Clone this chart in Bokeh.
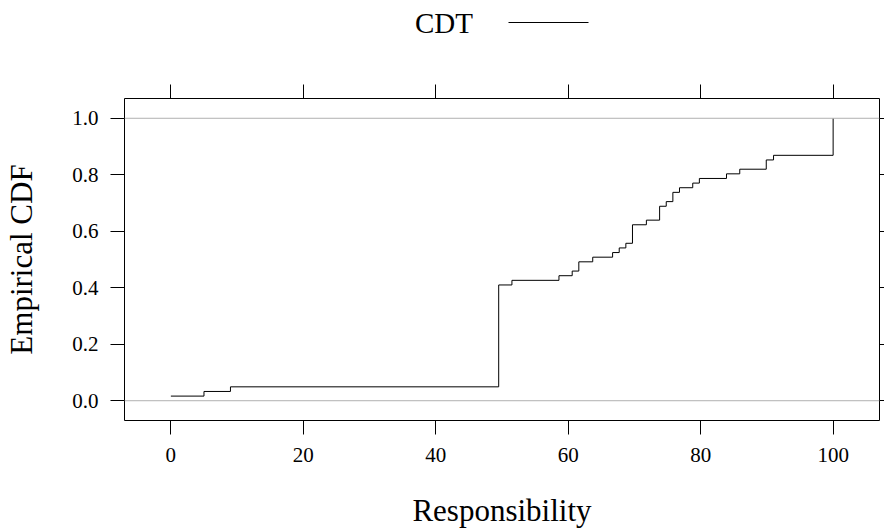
import numpy as np
from bokeh.plotting import figure
from bokeh.layouts import column
from bokeh.models import (FixedTicker, PrintfTickFormatter, LinearAxis, Span,
                          Range1d, CustomJSTickFormatter)
from bokeh.core.properties import value
from bokeh.embed import file_html
from bokeh.resources import INLINE

series_name = "CDT"
resp_values = [0, 5, 9, 49.5, 51.5, 58.6, 60.6, 61.6, 63.7, 66.7, 67.7, 68.7,
               69.7, 71.8, 73.8, 74.8, 75.8, 76.8, 78.8, 79.8, 83.9, 85.9,
               89.9, 91.0, 100]
resp_counts = [1, 1, 1, 22, 1, 1, 1, 2, 1, 1, 1, 1,
               4, 1, 3, 1, 2, 1, 1, 1, 1, 1,
               2, 1, 8]
x_ticks = [0, 20, 40, 60, 80, 100]
y_ticks = [0.0, 0.2, 0.4, 0.6, 0.8, 1.0]

x = np.array(resp_values, dtype=float)
cdf = np.cumsum(resp_counts) / np.sum(resp_counts)

FONT = "Liberation Serif"
W = 884
KEY_H = 50
FRAME_L, FRAME_R = 124, 879   # canvas pixels of the panel frame

# ---- key strip (label followed by a line sample) ----
# the column aligns this strip's frame with the main panel's frame, so its
# x range is expressed in canvas pixels of that frame
key = figure(width=W, height=KEY_H, output_backend="svg", toolbar_location=None,
             x_range=Range1d(FRAME_L, FRAME_R), y_range=Range1d(0, KEY_H),
             x_axis_type=None, y_axis_type=None, min_border=0,
             min_border_left=FRAME_L, min_border_right=W - FRAME_R)
key.grid.visible = False
key.outline_line_color = None
key.text(x=[443.5], y=[KEY_H - 22.5], text=[series_name], text_font=value(FONT),
         text_font_size="29px", text_align="center", text_baseline="middle",
         text_color="black")
key.line(x=[508, 588], y=[KEY_H - 22, KEY_H - 22], line_color="black",
         line_width=1)

# ---- main panel ----
p = figure(width=W, height=531 - KEY_H, output_backend="svg",
           toolbar_location=None,
           x_range=Range1d(-7, 107), y_range=Range1d(-0.07, 1.07),
           min_border_left=FRAME_L, min_border_right=W - FRAME_R,
           min_border_top=98 - KEY_H, min_border_bottom=111)
p.grid.visible = False
p.outline_line_color = "black"
p.outline_line_width = 1
p.background_fill_color = "white"
p.border_fill_color = "white"

for yv in (0.0, 1.0):
    p.add_layout(Span(location=yv, dimension="width", line_color="#b0b0b0",
                      line_width=1))

p.step(x, cdf, mode="after", line_color="black", line_width=1)


def style_axis(ax, ticks, tick_out=14):
    ax.ticker = FixedTicker(ticks=ticks)
    ax.axis_line_color = None
    ax.major_tick_out = tick_out
    ax.major_tick_in = 0
    ax.minor_tick_line_color = None
    ax.major_tick_line_color = "black"
    ax.major_label_text_font = FONT
    ax.major_label_text_font_size = "21px"
    ax.major_label_text_color = "black"


xa = p.xaxis[0]
ya = p.yaxis[0]
style_axis(xa, x_ticks)
style_axis(ya, y_ticks)
ya.formatter = PrintfTickFormatter(format="%.1f")
xa.major_label_standoff = 13
ya.major_label_standoff = 12
xa.axis_label = "Responsibility"
ya.axis_label = "Empirical CDF"
for ax in (xa, ya):
    ax.axis_label_text_font = FONT
    ax.axis_label_text_font_size = "31px"
    ax.axis_label_text_font_style = "normal"
    ax.axis_label_text_color = "black"
xa.axis_label_standoff = 28
ya.axis_label_standoff = 30

blank = CustomJSTickFormatter(code="return '';")
top = LinearAxis(formatter=blank)
right = LinearAxis(formatter=blank)
style_axis(top, x_ticks, 14)
style_axis(right, y_ticks, 5)
top.major_label_standoff = 0
right.major_label_standoff = 0
p.add_layout(top, "above")
p.add_layout(right, "right")

layout = column(key, p, spacing=0)
open("out.html", "w").write(file_html(layout, INLINE))
